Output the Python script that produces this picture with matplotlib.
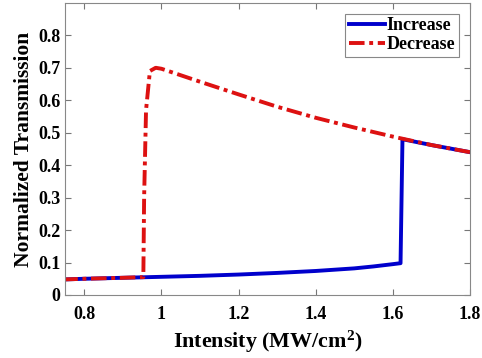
import numpy as np
import matplotlib
matplotlib.use('Agg')
import matplotlib.pyplot as plt

plt.rcParams.update({'font.family': 'Liberation Serif', 'font.weight': 'bold',
                     'mathtext.fontset': 'custom', 'mathtext.rm': 'Liberation Serif',
                     'mathtext.bf': 'Liberation Serif:bold'})

# increasing intensity branch
inc_x = [0.75, 0.8, 0.9, 1.0, 1.1, 1.2, 1.3, 1.4, 1.5, 1.55, 1.6, 1.62, 1.625, 1.65, 1.7, 1.75, 1.8]
inc_y = [0.048, 0.050, 0.053, 0.056, 0.059, 0.063, 0.068, 0.074, 0.082, 0.088, 0.095, 0.098, 0.480, 0.474, 0.462, 0.451, 0.440]

# decreasing intensity branch
dec_x = [1.8, 1.75, 1.7, 1.6, 1.5, 1.4, 1.3, 1.2, 1.1, 1.05, 1.0, 0.985, 0.97, 0.96, 0.955, 0.953, 0.9, 0.8, 0.75]
dec_y = [0.440, 0.451, 0.462, 0.488, 0.516, 0.546, 0.580, 0.618, 0.657, 0.677, 0.697, 0.700, 0.690, 0.570, 0.300, 0.055, 0.053, 0.050, 0.048]

fig = plt.figure(figsize=(4.82, 3.58), dpi=100)
ax = fig.add_axes([0.135, 0.176, 0.84, 0.816])
ax.plot(inc_x, inc_y, color='#0000CC', lw=2.8, label='Increase')
ax.plot(dec_x, dec_y, color='#DD1111', lw=2.8, ls=(0, (4, 1.2, 1, 1.2)), label='Decrease')

ax.set_xlim(0.75, 1.8)
ax.set_ylim(0, 0.9)
ax.set_xticks([0.8, 1.0, 1.2, 1.4, 1.6, 1.8])
ax.set_xticklabels(['0.8', '1', '1.2', '1.4', '1.6', '1.8'])
ax.set_yticks(np.arange(0, 0.81, 0.1))
ax.set_yticklabels(['0', '0.1', '0.2', '0.3', '0.4', '0.5', '0.6', '0.7', '0.8'])
ax.tick_params(direction='in', top=True, right=True, length=4, width=0.8,
               color='#777777', labelsize=13)
ax.tick_params(axis='x', pad=8)
ax.tick_params(axis='y', pad=3.5)
for s in ax.spines.values():
    s.set_color('#888888')
    s.set_linewidth(0.8)

ax.set_xlabel(r'Intensity (MW/cm$\mathbf{^2}$)', fontsize=15.8, fontweight='bold', labelpad=4)
ax.set_ylabel('Normalized Transmission', fontsize=15.5, fontweight='bold', labelpad=3)

leg = ax.legend(loc='upper right', fontsize=13, handlelength=2.0, handletextpad=0.1,
                borderpad=0.2, labelspacing=0.1, borderaxespad=0.6, fancybox=False,
                framealpha=1)
leg.get_frame().set_edgecolor('#888888')
leg.get_frame().set_linewidth(0.8)

plt.savefig('out.png')
